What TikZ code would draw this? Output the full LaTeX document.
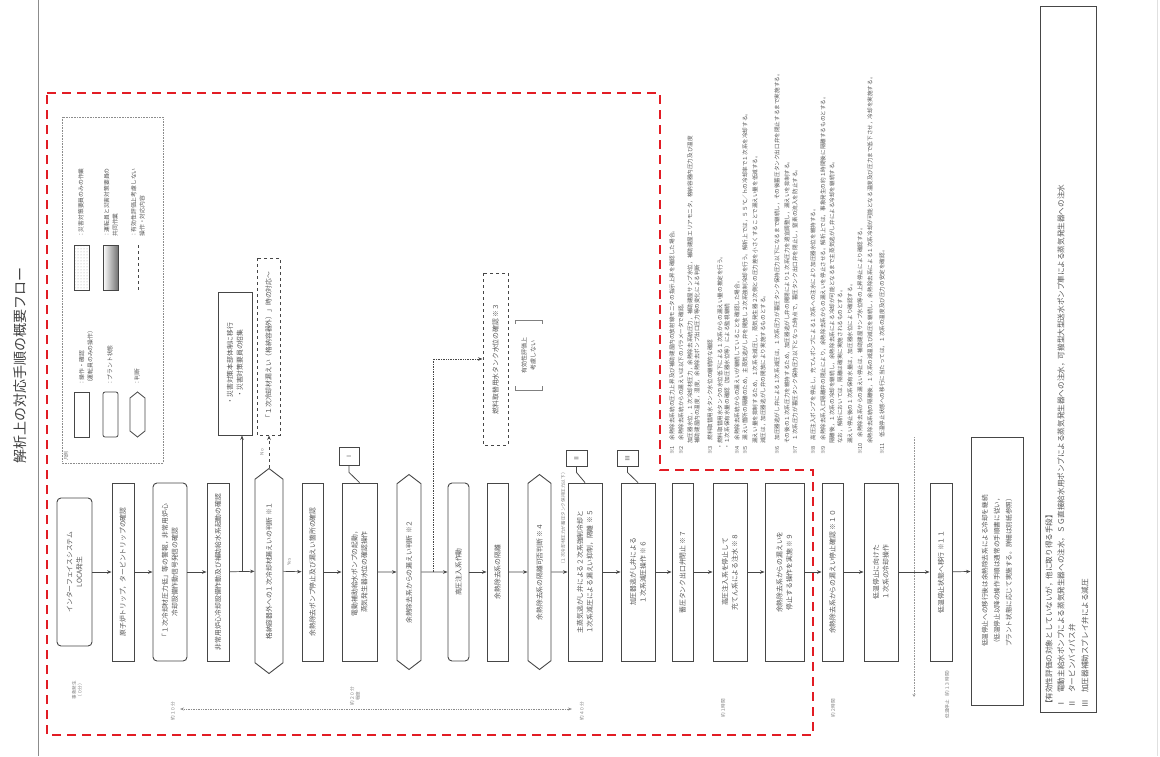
\documentclass[tikz,border=0pt]{standalone}
\usepackage{fontspec}
\setmainfont{Noto Sans CJK JP}
\usetikzlibrary{arrows.meta,shapes.symbols,patterns,calc}
\definecolor{rd}{RGB}{226,28,36}
\definecolor{ln}{RGB}{70,70,70}
\definecolor{tx}{RGB}{85,85,85}
\begin{document}
\begin{tikzpicture}[x=1pt,y=-1pt,
  fb/.style={draw=ln, line width=0.9pt, fill=white, rotate=90, align=center, text=tx, font=\fontsize{6.8}{9.8}\selectfont, inner sep=1pt},
  rb/.style={fb, rounded corners=4pt},
  hb/.style={fb, signal, signal to=east and west, signal pointer angle=105},
  db/.style={fb, dashed, line width=1pt},
  fl/.style={draw=ln, line width=0.7pt, -{Stealth[length=4.5pt,width=3.5pt]}},
  nt/.style={rotate=90, anchor=west, font=\fontsize{5.6}{6.5}\selectfont, text=tx, inner sep=0pt},
  sm/.style={rotate=90, font=\fontsize{4.6}{5.6}\selectfont, text=black!50, align=center, inner sep=0pt},
  lg/.style={rotate=90, anchor=west, align=left, font=\fontsize{5.8}{8.5}\selectfont, text=tx, inner sep=0pt},
  rm/.style={draw=ln, line width=0.8pt, fill=white, inner sep=0pt, font=\fontsize{6}{6}\selectfont, text=tx},
]
\useasboundingbox (0,0) rectangle (1160,756);
% page edge and title
\draw[black!45, line width=0.8pt] (38,0) -- (38,756);
\draw[black!12, line width=0.6pt] (1157,0) -- (1157,756);
\node[rotate=90, font=\fontsize{14}{14}\selectfont, text=black!75] (title) at (20,365) {解析上の対応手順の概要フロー};

% red dashed region
\draw[rd, line width=2.6pt, dash pattern=on 9pt off 6pt] (47,93) -- (660,93) -- (660,470) -- (813,470) -- (813,735) -- (47,735) -- cycle;

% legend
\draw[black!45, densely dotted, line width=0.6pt] (62,117) rectangle (163,463);
\node[rotate=90, anchor=west, font=\fontsize{4.8}{5}\selectfont, text=black!55, inner sep=0pt] (lgt) at (66,461) {凡例};
\draw[ln, line width=0.8pt, pattern=dots, pattern color=black!35] (74,245) rectangle (89,290);
\shade[left color=white, right color=black!55] (103,245) rectangle (118,290);
\draw[ln, line width=0.8pt] (103,245) rectangle (118,290);
\draw[ln, dashed, line width=1pt] (138,245) -- (138,290);
\node[lg] (la1) at (81,238) {：災害対策要員のみの作業};
\node[lg] (la2) at (111,238) {：運転員と災害対策要員の\\\ 共同作業};
\node[lg] (la3) at (138,238) {：有効性評価上考慮しない\\\ 操作・対応内容};
\draw[ln, line width=0.8pt] (74,392) rectangle (89,437);
\draw[ln, line width=0.8pt, rounded corners=2pt] (103,392) rectangle (118,437);
\draw[ln, line width=0.8pt] (130,398) -- (137.5,392) -- (145,398) -- (145,431) -- (137.5,437) -- (130,431) -- cycle;
\node[lg] (lb1) at (86,386) {：操作・確認\\（運転員のみの操作）};
\node[lg] (lb2) at (110,386) {：プラント状態};
\node[lg] (lb3) at (137,386) {：判断};

% main flow
\node[rb, minimum width=148pt, minimum height=35pt] (b1) at (74.5,572) {インターフェイスシステム\\LOCA発生};
\node[fb, minimum width=178pt, minimum height=22pt] (b2) at (123,572) {原子炉トリップ，タービントリップの確認};
\node[rb, minimum width=178pt, minimum height=34pt] (b3) at (170,572) {「１次冷却材圧力低」等の警報，非常用炉心\\冷却設備作動信号発信の確認};
\node[fb, minimum width=178pt, minimum height=22pt] (b4) at (218,572) {非常用炉心冷却設備作動及び補助給水系起動の確認};
\node[hb, minimum width=205pt, minimum height=28pt] (h5) at (269,571) {格納容器外への１次冷却材漏えいの判断 ※１};
\node[fb, minimum width=178pt, minimum height=21pt] (b6) at (312.5,572) {余熱除去ポンプ停止及び漏えい箇所の確認};
\node[fb, minimum width=178pt, minimum height=35pt] (b7) at (359.5,572) {電動補助給水ポンプの起動，\\蒸気発生器水位の確認操作};
\node[hb, minimum width=195pt, minimum height=24pt] (h8) at (409,572) {余熱除去系からの漏えい判断 ※２};
\node[rb, minimum width=178pt, minimum height=21pt] (b9) at (458.5,572) {高圧注入系作動};
\node[fb, minimum width=178pt, minimum height=21pt] (b10) at (497.5,572) {余熱除去系の隔離};
\node[hb, minimum width=195pt, minimum height=23pt] (h11) at (539.5,572) {余熱除去系の隔離可否判断 ※４};
\node[fb, minimum width=178pt, minimum height=34pt] (b12) at (585,572) {主蒸気逃がし弁による２次系強制冷却と\\１次系減圧による漏えい抑制，隔離 ※５};
\node[fb, minimum width=178pt, minimum height=34pt] (b13) at (638,572) {加圧器逃がし弁による\\１次系減圧操作 ※６};
\node[fb, minimum width=178pt, minimum height=21pt] (b14) at (682.5,572) {蓄圧タンク出口弁閉止 ※７};
\node[fb, minimum width=178pt, minimum height=34pt] (b15) at (730,572) {高圧注入系を停止して\\充てん系による注水 ※８};
\node[fb, minimum width=178pt, minimum height=39pt] (b16) at (784.5,572) {余熱除去系からの漏えいを\\停止する操作を実施 ※９};
\node[fb, minimum width=178pt, minimum height=21pt] (b17) at (832.5,572) {余熱除去系からの漏えい停止確認 ※１０};
\node[fb, minimum width=178pt, minimum height=34pt] (b18) at (881,572) {低温停止に向けた\\１次系の冷却操作};
\node[fb, minimum width=178pt, minimum height=22pt] (b19) at (941,572) {低温停止状態へ移行 ※１１};
\node[fb, minimum width=268pt, minimum height=52pt, font=\fontsize{6.6}{12}\selectfont] (b20) at (997,571) {低温停止への移行後は余熱除去系による冷却を継続\\（低温停止以降の操作手順は通常の手順書に従い，\\プラント状態に応じて実施する。詳細は別紙参照）};

\foreach \a/\b in {b1/b2,b2/b3,b3/b4,b4/h5,h5/b6,b6/b7,b7/h8,h8/b9,b9/b10,b10/h11,h11/b12,b12/b13,b13/b14,b14/b15,b15/b16,b16/b17,b17/b18,b18/b19,b19/b20}
  \draw[fl] (\a) -- (\b);

% upper branches
\node[fb, minimum width=143pt, minimum height=34pt] (q4) at (235,363.5) {・災害対策本部体制に移行\\・災害対策要員の招集};
\coordinate (j4) at (242,572);
\draw[fl] (j4) -- (j4 |- q4.west);
\node[db, minimum width=177pt, minimum height=23pt] (d5) at (268.5,346.5) {「１次冷却材漏えい（格納容器外）」時の対応～};
\draw[fl, dashed] (h5.east) -- (h5.east |- d5.west);
\node[sm] (no5) at (262,452) {No};
\node[sm] (ys5) at (289,562) {Yes};
\node[db, minimum width=172pt, minimum height=25pt] (d8) at (495.5,359) {燃料取替用水タンク水位の確認 ※３};
\coordinate (j8) at (433,572);
\draw[fl, densely dotted] (j8) |- (d8.north);
\node[rotate=90, align=center, font=\fontsize{6}{9}\selectfont, text=tx, inner sep=0pt] (nb8) at (528.5,355) {有効性評価上\\考慮しない};
\draw[black!50, line width=0.6pt] (515,324) -- (515,320) -- (542,320) -- (542,324);
\draw[black!50, line width=0.6pt] (515,386) -- (515,390) -- (542,390) -- (542,386);
\node[sm, anchor=west] (t12) at (563,567) {（１次冷却材圧力が蓄圧タンク保持圧力以下）};

% roman markers
\node[rm, minimum width=20pt, minimum height=18pt] (r1) at (349,456) {\rotatebox{90}{Ⅰ}};
\draw[ln, line width=0.8pt] (r1.south) -- ++(0,7) -- (b7.east);
\node[rm, minimum width=21pt, minimum height=16pt] (r2) at (576.5,458) {\rotatebox{90}{Ⅱ}};
\draw[ln, line width=0.8pt] (r2.south) -- ++(0,6) -- (b12.east);
\node[rm, minimum width=21pt, minimum height=16pt] (r3) at (627.5,458) {\rotatebox{90}{Ⅲ}};
\draw[ln, line width=0.8pt] (r3.south) -- ++(0,6) -- (b13.east);

% time axis
\coordinate (ta) at (180,709);
\coordinate (tb) at (572,709);
\draw[black!45, densely dotted, line width=0.7pt, {Stealth[length=4pt,width=3pt]}-{Stealth[length=4pt,width=3pt]}] (ta) -- (tb);
\node[sm] (tl0) at (77,690) {事象発生\\（０分）};
\node[sm] (tl1) at (173,711) {約１０分};
\node[sm] (tl2) at (355,696) {約２０分\\程度};
\node[sm] (tl3) at (582,711) {約４０分};
\node[sm] (tl4) at (723,708) {約１時間};
\node[sm] (tl5) at (833,708) {約２時間};
\node[sm] (tl6) at (947,693) {低温停止（約１３時間）};
\coordinate (va) at (914,437);
\coordinate (vb) at (914,697);
\draw[black!40, densely dotted, line width=0.6pt, -{Stealth[length=3pt,width=3pt]}] (va) -- (vb);

% notes
\node[nt] (n1) at (672,455) {※1　余熱除去系統の圧力上昇及び補助建屋内の放射線モニタの指示上昇を確認した場合。};
\node[nt] (n2) at (681,455) {※2　余熱除去系統からの漏えいは以下のパラメータで確認。};
\node[nt] (n3) at (690,455) {　　加圧器水位，１次冷却材圧力，余熱除去系統圧力，補助建屋サンプ水位，補助建屋エリアモニタ，格納容器内圧力及び温度};
\node[nt] (n4) at (697,455) {　　補助建屋内の温度，湿度，余熱除去ポンプ出口圧力等の変化による判断};
\node[nt] (n5) at (710,455) {※3　燃料取替用水タンク水位の継続的な確認};
\node[nt] (n6) at (720,455) {　・燃料取替用水タンクの水位低下による１次系からの漏えい量の推定を行う。};
\node[nt] (n7) at (727,455) {　・１次系保有水量の確認（加圧器水位等）による監視継続};
\node[nt] (n8) at (737,455) {※4　余熱除去系統からの漏えいが継続していることを確認した場合。};
\node[nt] (n9) at (745,455) {※5　漏えい箇所の隔離のため，主蒸気逃がし弁を開放し２次系強制冷却を行う。解析上では，５５℃／ｈの冷却率で１次系を冷却する。};
\node[nt] (n10) at (755,455) {　　漏えい量を抑制するため，１次系を減圧し，蒸気発生器２次側との圧力差を小さくすることで漏えい量を低減する。};
\node[nt] (n11) at (763,455) {　　減圧は，加圧器逃がし弁の開放により実施するものとする。};
\node[nt] (n12) at (777,455) {※6　加圧器逃がし弁による１次系減圧は，１次系圧力が蓄圧タンク保持圧力以下になるまで継続し，その後蓄圧タンク出口弁を閉止するまで実施する。};
\node[nt] (n13) at (787,455) {　　その後の１次系圧力を維持するため，加圧器逃がし弁の開閉により１次系圧力を適宜調整し，漏えいを抑制する。};
\node[nt] (n14) at (795,455) {※7　１次系圧力が蓄圧タンク保持圧力以下となった時点で，蓄圧タンク出口弁を閉止し，窒素の流入を防止する。};
\node[nt] (n15) at (813,455) {※8　高圧注入ポンプを停止し，充てんポンプによる１次系への注水により加圧器水位を維持する。};
\node[nt] (n16) at (823,455) {※9　余熱除去系入口隔離弁の閉止により，余熱除去系からの漏えいを停止させる。解析上では，事象発生の約１時間後に隔離するものとする。};
\node[nt] (n17) at (832,455) {　　隔離後，１次系の冷却を継続し，余熱除去系による冷却が可能となるまで主蒸気逃がし弁による冷却を継続する。};
\node[nt] (n18) at (840,455) {　　なお，解析においては，隔離は確実に実施されるものとする。};
\node[nt] (n19) at (850,455) {　　漏えい停止後の１次系保有水量は，加圧器水位により確認する。};
\node[nt] (n20) at (860,455) {※10　余熱除去系からの漏えい停止は，補助建屋サンプ水位等の上昇停止により確認する。};
\node[nt] (n21) at (870,455) {　　余熱除去系統の隔離後，１次系の減温及び減圧を継続し，余熱除去系による１次系冷却が可能となる温度及び圧力まで低下させ，冷却を実施する。};
\node[nt] (n22) at (882,455) {※11　低温停止状態への移行に当たっては，１次系の温度及び圧力の安定を確認。};

% right note box
\draw[ln, line width=1pt] (1040,6) rectangle (1096,712);
\node[nt, font=\fontsize{7.6}{7.6}\selectfont] (m1) at (1049,708) {【有効性評価の対象としていないが，他に取り得る手段】};
\node[nt, font=\fontsize{7.6}{7.6}\selectfont] (m2) at (1061,708) {Ⅰ　電動主給水ポンプによる蒸気発生器への注水，ＳＧ直接給水用ポンプによる蒸気発生器への注水，可搬型大型送水ポンプ車による蒸気発生器への注水};
\node[nt, font=\fontsize{7.6}{7.6}\selectfont] (m3) at (1072,708) {Ⅱ　タービンバイパス弁};
\node[nt, font=\fontsize{7.6}{7.6}\selectfont] (m4) at (1085,708) {Ⅲ　加圧器補助スプレイ弁による減圧};
\end{tikzpicture}
\end{document}
